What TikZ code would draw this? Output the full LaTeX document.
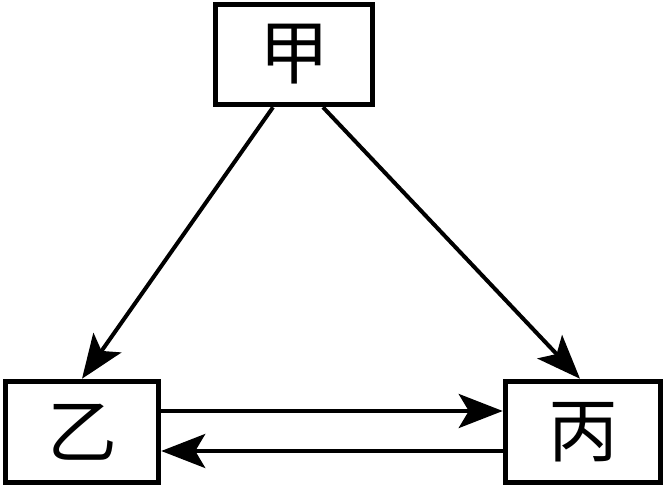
\documentclass[tikz,border=0pt]{standalone}
\usepackage{fontspec}
\newfontfamily\cjk{Noto Sans CJK SC}
\usetikzlibrary{arrows.meta}

\begin{document}
\begin{tikzpicture}[x=1pt, y=1pt,
    box/.style={draw, line width=5.5pt, minimum width=155pt, minimum height=101pt, inner sep=0pt, font=\cjk\fontsize{70}{70}\selectfont},
    arrow/.style={-{Stealth[length=44pt, width=34pt, inset=10pt]}, line width=4pt}]
    \useasboundingbox (0,0) rectangle (663,487);

    % three boxes: top one, bottom left, bottom right
    \node[box, minimum width=157pt, minimum height=100pt] (jia) at (294,432.5) {甲};
    \node[box, minimum width=153pt] (yi) at (82,55) {乙};
    \node[box] (bing) at (583,55) {丙};

    \draw[arrow] ([xshift=-21pt]jia.south) -- (yi.north);
    \draw[arrow] ([xshift=29pt]jia.south) -- ([xshift=-3pt]bing.north);
    \draw[arrow] ([yshift=21pt]yi.east) -- ([yshift=21pt]bing.west);
    \draw[arrow] ([yshift=-19pt]bing.west) -- ([yshift=-19pt]yi.east);
\end{tikzpicture}
\end{document}
